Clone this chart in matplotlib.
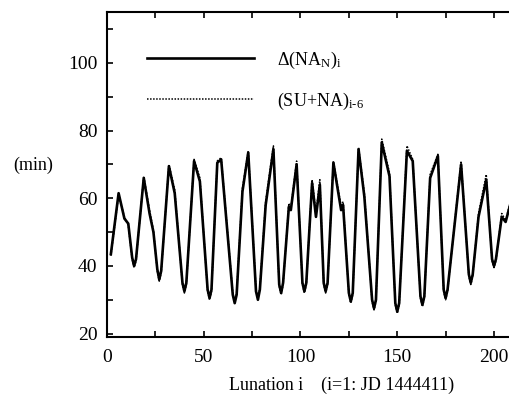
import numpy as np
import matplotlib.pyplot as plt
from matplotlib.ticker import MultipleLocator

plt.rcParams['font.family'] = ['Liberation Serif', 'DejaVu Serif']
plt.rcParams['mathtext.fontset'] = 'custom'
plt.rcParams['mathtext.rm'] = 'Liberation Serif'
plt.rcParams['mathtext.it'] = 'Liberation Serif:italic'

# values (lunation, minutes)
lun_na = [2, 6, 9, 11, 13, 14, 15, 19, 22, 24, 26, 27, 28, 32, 35, 39, 40, 41,
          45, 48, 52, 53, 54, 57, 59, 65, 66, 67, 70, 73, 77, 78, 79, 82, 86,
          89, 90, 91, 94, 95, 98, 101, 102, 103, 106, 108, 110, 112, 113, 114,
          117, 121, 122, 125, 126, 127, 130, 133, 137, 138, 139, 142, 146, 149,
          150, 151, 155, 158, 162, 163, 164, 167, 171, 174, 175, 176, 183, 187,
          188, 189, 192, 196, 199, 200, 201, 204, 206, 209]
delta_na = [43.5, 61.5, 54, 52.5, 42.5, 40, 42, 66, 55.5, 50, 39, 36, 38.5,
            69.5, 61.5, 35, 32.5, 35, 71, 65, 33, 30.5, 33, 70.5, 71.5, 31.5,
            29, 31.5, 62, 73.5, 32.5, 30, 33, 58, 74.5, 34.5, 32, 35, 57.5, 56.5,
            70, 35, 32.5, 35, 64.5, 54.5, 64, 35, 32.5, 35, 70.5, 56.5, 58,
            32, 29.5, 32, 74.5, 60.5, 30, 27.5, 30, 76.5, 66.5, 29,
            26.5, 29, 74, 71, 31, 28.5, 31, 66, 72.5, 33, 30.5, 33, 70, 37.5,
            35, 37.5, 54.5, 65.5, 42, 40, 42, 54.5, 53, 59.5]
su_na = [43, 61, 54.5, 52, 42, 39.5, 41.5, 66.5, 56.5, 50.5, 38.5, 35.5, 38,
         70, 62.5, 34.5, 32, 34.5, 71.5, 66, 32.5, 30, 32.5, 71, 72, 32,
         29.5, 32, 63, 74, 33, 30.5, 33.5, 59, 75.5, 34, 31.5, 34.5, 58.5, 57,
         71, 34.5, 32, 34.5, 65.5, 55.5, 65.5, 34.5, 32, 34.5, 71, 57.5, 59,
         31.5, 29, 31.5, 75, 61.5, 29.5, 27, 29.5, 77.5, 67.5, 28.5,
         26, 28.5, 75.5, 71.5, 30.5, 28, 30.5, 67, 73, 32.5, 30, 32.5, 71, 37,
         34.5, 37, 55.5, 67, 41.5, 39.5, 41.5, 55.5, 53.5, 60]

fig = plt.figure(figsize=(5.10, 4.03), dpi=100)
ax = fig.add_axes([0.2098, 0.1638, 0.8347, 0.806])

ax.plot(lun_na, delta_na, color='black', lw=1.9, label='Δ(NA$_\\mathrm{N}$)$_\\mathrm{i}$')
ax.plot(lun_na, su_na, color='black', lw=1.1, linestyle=(0, (1, 1)),
        label='(SU+NA)$_\\mathrm{i\\text{-}6}$')

ax.set_xlim(0, 220)
ax.set_ylim(19, 115)
ax.xaxis.set_major_locator(MultipleLocator(50))
ax.xaxis.set_minor_locator(MultipleLocator(25))
ax.yaxis.set_major_locator(MultipleLocator(20))
ax.yaxis.set_minor_locator(MultipleLocator(10))
ax.tick_params(which='both', direction='in', top=True, right=True, length=4, width=1.2)
ax.tick_params(axis='x', labelsize=14, pad=9)
ax.tick_params(axis='y', labelsize=14, pad=7)
for s in ax.spines.values():
    s.set_linewidth(1.5)

ax.set_ylabel('(min)', rotation=0, fontsize=13, ha='center', va='center')
ax.yaxis.set_label_coords(-0.174, 0.529)
ax.set_xlabel('Lunation i    (i=1: JD 1444411)', fontsize=13, ha='center', va='center')
ax.xaxis.set_label_coords(0.55, -0.148)

ax.legend(loc='upper left', bbox_to_anchor=(0.094, 0.885), frameon=False, fontsize=13,
          handlelength=5.9, handletextpad=1.3, labelspacing=1.1, borderpad=0,
          borderaxespad=0)

fig.savefig('out.png', dpi=100)
